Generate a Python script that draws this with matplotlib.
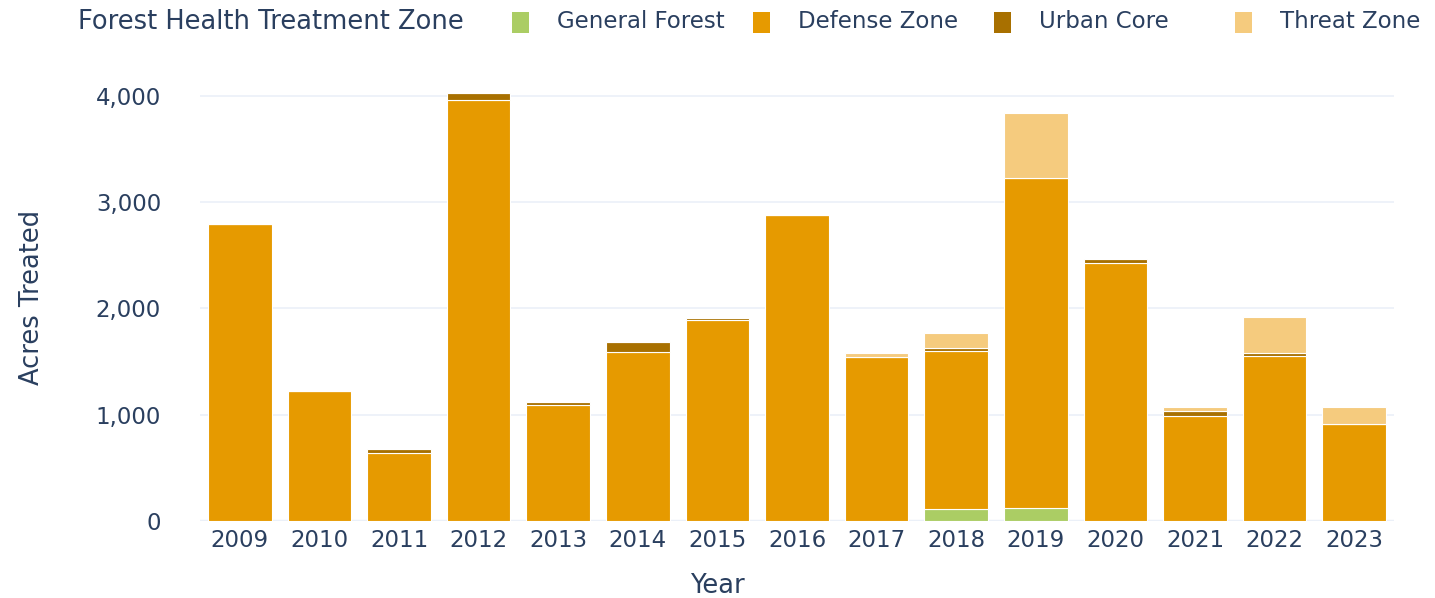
import numpy as np
import matplotlib
matplotlib.use("Agg")
import matplotlib.pyplot as plt
from matplotlib.patches import Rectangle
from matplotlib.ticker import FuncFormatter

years = ["2009", "2010", "2011", "2012", "2013", "2014", "2015", "2016",
         "2017", "2018", "2019", "2020", "2021", "2022", "2023"]

zones = ["General Forest", "Defense Zone", "Urban Core", "Threat Zone"]
general_forest = [0, 0, 0, 0, 0, 0, 0, 0, 0, 115, 120, 0, 0, 0, 0]
defense_zone = [2795, 1225, 640, 3955, 1090, 1590, 1890, 2880, 1545, 1485, 3105, 2430, 990, 1555, 915]
urban_core = [0, 0, 38, 70, 30, 95, 20, 0, 0, 28, 0, 35, 45, 25, 0]
threat_zone = [0, 0, 0, 0, 0, 0, 0, 0, 35, 140, 610, 0, 35, 340, 155]

colors = ["#ABCD64", "#E69A00", "#A87000", "#F5CB7E"]
text_col = "#2A3F5F"
grid_col = "#EBF0F8"

series = [general_forest, defense_zone, urban_core, threat_zone]

fig = plt.figure(figsize=(14.35, 5.98), dpi=100)
ax = fig.add_axes([200 / 1435, 1 - 521 / 598, 1194 / 1435, 451 / 598])

x = np.arange(len(years))
bottom = np.zeros(len(years))
for vals, col, name in zip(series, colors, zones):
    vals = np.array(vals, dtype=float)
    ax.bar(x, vals, width=0.8, bottom=bottom, color=col, edgecolor="white",
           linewidth=0.8, label=name, zorder=3)
    bottom += vals

ax.set_xlim(-0.5, len(years) - 0.5)
ax.set_ylim(0, 4240)
ax.set_yticks([0, 1000, 2000, 3000, 4000])
ax.yaxis.set_major_formatter(FuncFormatter(lambda v, p: f"{int(v):,}"))
ax.set_xticks(x)
ax.set_xticklabels(years)

ax.grid(axis="y", color=grid_col, linewidth=1.2, zorder=0)
ax.axhline(0, color=grid_col, linewidth=2.5, zorder=2)
for s in ax.spines.values():
    s.set_visible(False)
ax.tick_params(axis="both", length=0, labelsize=16.5, labelcolor=text_col)
ax.tick_params(axis="y", pad=46 - 18)
ax.tick_params(axis="x", pad=6)

# axis titles placed like the original
fig.text(717 / 1435, 1 - 586 / 598, "Year", fontsize=18.5, color=text_col,
         ha="center", va="center")
fig.text(32 / 1435, 1 - 297 / 598, "Acres Treated", fontsize=18.5, color=text_col,
         ha="center", va="center", rotation=90)

# legend across the top, plotly-style
fig.text(78 / 1435, 1 - 22 / 598, "Forest Health Treatment Zone", fontsize=18.5,
         color=text_col, va="center", ha="left")
for i, (name, col) in enumerate(zip(zones, colors)):
    x0 = (512 + i * 241) / 1435
    fig.add_artist(Rectangle((x0, 1 - 33 / 598), 17 / 1435, 21 / 598,
                             transform=fig.transFigure, facecolor=col,
                             edgecolor="none"))
    fig.text(x0 + 45 / 1435, 1 - 22 / 598, name, fontsize=16.5, color=text_col,
             va="center", ha="left")

fig.savefig("out.png", dpi=100, facecolor="white")
